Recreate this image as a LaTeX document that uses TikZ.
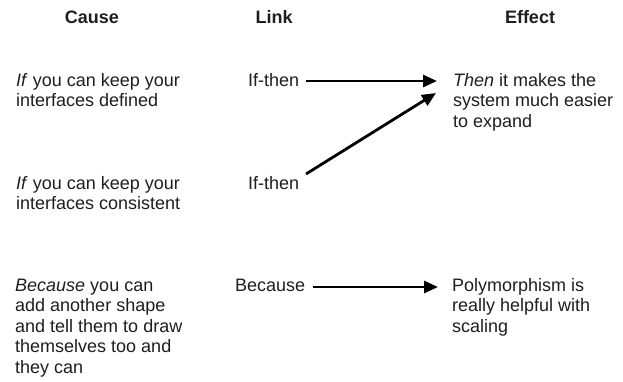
\documentclass[tikz,border=0pt]{standalone}
\usepackage{fontspec}
\setmainfont{Liberation Sans}
\usetikzlibrary{arrows.meta}
\definecolor{txt}{HTML}{1E1E1E}
\begin{document}
\begin{tikzpicture}[x=1pt,y=-1pt,
  lbl/.style={anchor=base west,inner sep=0pt,align=left,text=txt,
    font=\fontsize{18}{20.5}\selectfont},
  hdr/.style={anchor=base,inner sep=0pt,text=txt,
    font=\fontsize{18}{20.5}\selectfont\bfseries},
  conn/.style={line width=2.8pt,draw=black,-{Triangle[length=14pt,width=12pt]}}]
\useasboundingbox (0,0) rectangle (623,381);
\node[hdr] (hc) at (92,23) {Cause};
\node[hdr] (hl) at (274,23) {Link};
\node[hdr] (he) at (530,23) {Effect};
% base anchor = baseline of last line (first baseline + (n-1)*20.5)
\node[lbl] (c1) at (16,106.5) {\textit{If} you can keep your\\interfaces defined};
\node[lbl] (c2) at (16,209.5) {\textit{If} you can keep your\\interfaces consistent};
\node[lbl] (c3) at (15,373) {\textit{Because} you can\\add another shape\\and tell them to draw\\themselves too and\\they can};
\node[lbl] (l1) at (248,86) {If-then};
\node[lbl] (l2) at (248,189) {If-then};
\node[lbl] (l3) at (235,291) {Because};
\node[lbl] (e1) at (453,127) {\textit{Then} it makes the\\system much easier\\to expand};
\node[lbl] (e3) at (452,332) {Polymorphism is\\really helpful with\\scaling};
\coordinate (a1s) at (306,81);
\coordinate (a1e) at (437,81);
\coordinate (a2s) at (306,174);
\coordinate (a2e) at (436,93);
\coordinate (a3s) at (313,287);
\coordinate (a3e) at (438,287);
\draw[conn] (a1s) -- (a1e);
\draw[conn] (a2s) -- (a2e);
\draw[conn] (a3s) -- (a3e);
\end{tikzpicture}
\end{document}
